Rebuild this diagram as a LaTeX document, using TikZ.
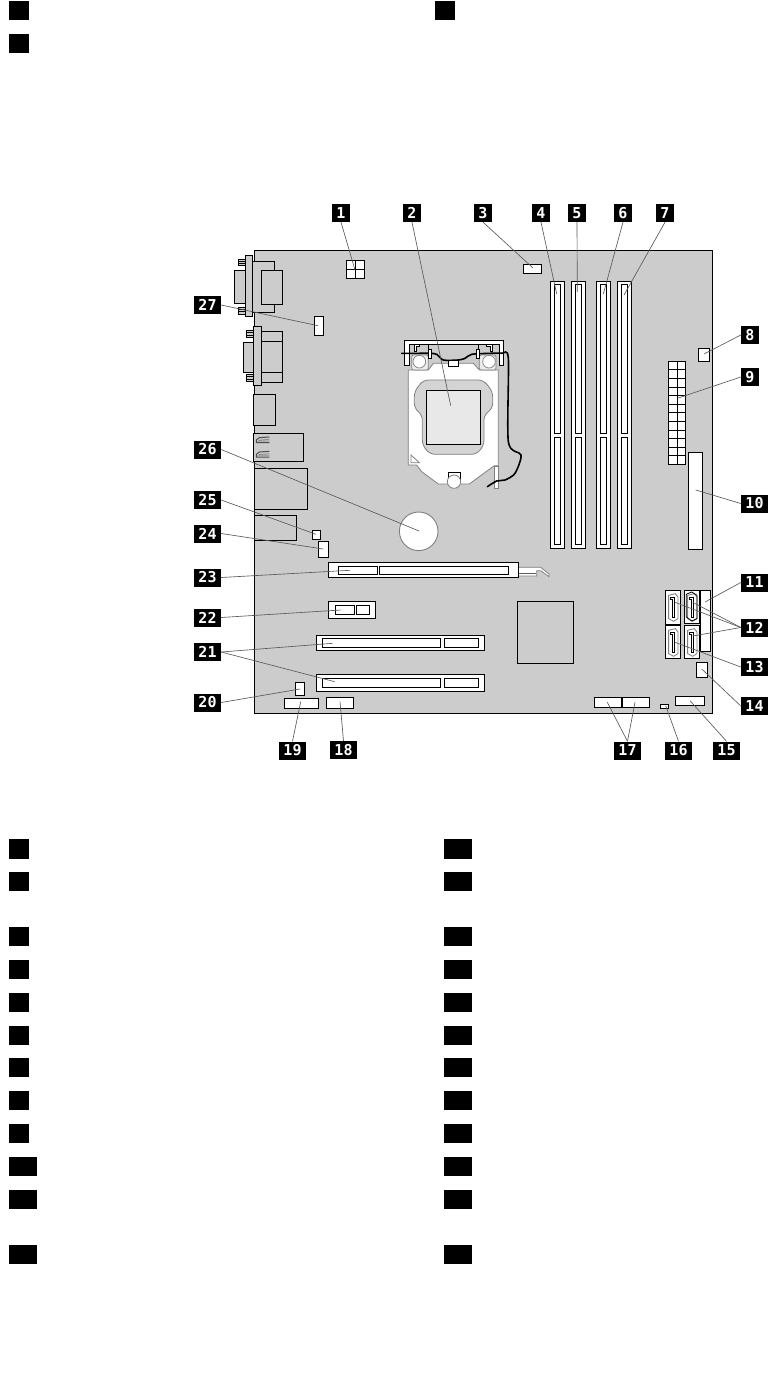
\documentclass[tikz,border=0pt]{standalone}
\usepackage{fontspec}
\newfontfamily\labfont{DejaVu Sans Mono}[BoldFont={DejaVu Sans Mono Bold}]
\definecolor{board}{HTML}{CCCCCC}
\definecolor{lead}{HTML}{5A5A5A}
\definecolor{soft}{HTML}{808080}
\tikzset{
 num/.style={fill=black,text=white,inner sep=0pt,minimum height=18pt,font=\labfont\bfseries\fontsize{15}{15}\selectfont},
 numa/.style={num,minimum width=18pt},
 numb/.style={num,minimum width=27pt},
 listn/.style={fill=black,inner sep=0pt,minimum height=19.5pt,minimum width=20pt},
 listw/.style={fill=black,inner sep=0pt,minimum height=19.5pt,minimum width=28pt},
 part/.style={draw=black,line width=.9pt,fill=white},
 grp/.style={draw=black,line width=.9pt,fill=board},
 line/.style={draw=black,line width=.9pt},
 sl/.style={draw=soft,line width=.8pt},
 lead/.style={draw=lead,line width=.65pt},
 z3/.style={x=.33333pt,y=-.33333pt},
}
\newcommand\satabox[3]{%
 \begin{scope}[shift={(#1,#2)},z3]
 \draw[part] (0,0) rectangle (44,#3);
 \draw[sl] (10,15)--(30,10)--(38,20)--(38,85)--(25,93)--(10,85)--cycle;
 \draw[line,line width=.8pt] (15,20)--(28,20)--(28,80)--(22,80)--(22,27)--(15,27)--cycle;
 \end{scope}}
\newcommand\dimm[1]{%
 \draw[part] (#1,281.3) rectangle ++(14.4,267);
 \draw[part] (#1+4,284.3) rectangle ++(5.7,149.4);
 \draw[part] (#1+4,437.3) rectangle ++(5.7,107.4);}
\begin{document}
\begin{tikzpicture}[x=1pt,y=-1pt]
\useasboundingbox (0,0) rectangle (768,1380);
\fill[white] (0,0) rectangle (768,1380);
% board
\draw[grp] (254.3,250) rectangle (712,713);
% serial port
\draw[grp] (252.7,261.3) rectangle (274.3,312.3);
\draw[grp] (261.3,270.3) rectangle (282.7,304.3);
\draw[grp] (234.3,270.3) rectangle (245.3,303.3);
\draw[grp] (245.3,255.3) rectangle (252.7,316.7);
\draw[grp,line width=.7pt] (238.3,259) rectangle (245.3,265.7);
\draw[grp,line width=.7pt] (238.3,307.3) rectangle (245.3,314);
\draw[line,line width=.5pt] (238.3,261.2)--(245.3,261.2) (238.3,263.4)--(245.3,263.4) (238.3,309.5)--(245.3,309.5) (238.3,311.7)--(245.3,311.7);
% VGA port
\draw[grp] (261.3,331.3) rectangle (282.7,382.3);
\draw[line] (261.3,341.3)--(282.7,341.3) (261.3,372.3)--(282.7,372.3);
\draw[grp] (243.3,342.3) rectangle (253.3,372.3);
\draw[grp] (253.3,326.3) rectangle (261.3,385.3);
\draw[grp,line width=.7pt] (246.3,330) rectangle (253.3,337.7);
\draw[grp,line width=.7pt] (246.3,374) rectangle (253.3,381.7);
\draw[line,line width=.5pt] (246.3,332.5)--(253.3,332.5) (246.3,335)--(253.3,335) (246.3,376.5)--(253.3,376.5) (246.3,379)--(253.3,379);
% rear blocks
\draw[grp] (253.3,394.3) rectangle (275.3,425.3);
\draw[grp] (253.3,433.3) rectangle (303.3,461.3);
\foreach \dy in {0,43} {
 \begin{scope}[shift={(250,430)},z3,yshift=-\dy*.33333pt]
 \draw[draw=black!70,line width=1pt] (58,21)--(28,23)--(19,30)--(19,38)--(58,38);
 \draw[draw=black!45,line width=.7pt] (58,28)--(30,30)--(25,33)--(58,33);
 \end{scope}}
\draw[grp] (254.3,468.3) rectangle (307.3,509.3);
\draw[grp] (254.3,515.3) rectangle (296.7,540.3);
% small headers
\draw[part] (346.3,260) rectangle (364.7,278.3);
\draw[line] (355.5,260)--(355.5,278.3) (346.3,269.2)--(364.7,269.2);
\draw[part] (314.3,316.3) rectangle (323.7,335.3);
\draw[part] (523.3,264) rectangle (541.7,273.7);
\draw[part] (312.3,530.3) rectangle (320.7,539.3);
\draw[part] (318.3,541.3) rectangle (328.3,557.3);
% battery
\draw[sl,fill=white,line width=.9pt] (418.7,531.3) circle (19.3);
% CPU socket
\begin{scope}[shift={(390,195)},z3]
\draw[sl,fill=white,line width=.8pt] (55,810)--(80,810)--(95,830)--(145,867)--(238,867)--(295,825)--(313,812)--(325,812)--(325,525)--(268,525)--(250,505)--(130,505)--(115,525)--(55,525)--cycle;
\draw[sl,fill=white!92!black,line width=.7pt,rounded corners=2pt] (65,525)--(65,480)--(115,480)--(115,525)--cycle;
\draw[sl,fill=white!92!black,line width=.7pt,rounded corners=2pt] (268,525)--(268,480)--(318,480)--(318,525)--cycle;
\draw[sl,fill=white,line width=.7pt] (88,500) circle (19);
\draw[sl,fill=white,line width=.7pt] (297,500) circle (19);
\draw[sl,fill=white!83!black,line width=.8pt,rounded corners=5pt] (100,555)--(280,555)--(308,590)--(308,640)--(282,660)--(282,750)--(260,778)--(120,778)--(97,750)--(97,660)--(73,640)--(73,590)--cycle;
\draw[part,fill=white!91!black] (108,586) rectangle (272,748);
\draw[sl,line width=.8pt] (63,780)--(63,803)--(88,803)--cycle;
\draw[line,fill=white] (175,832) rectangle (210,855);
\draw[sl,fill=white,line width=.8pt] (192,860) circle (20);
\draw[sl,fill=white,line width=.8pt] (313,813) rectangle (325,880);
% retention bar
\draw[part] (42,510)--(42,435)--(340,435)--(340,510)--(328,510)--(328,447)--(57,447)--(57,510)--cycle;
\draw[part] (88,448)--(72,448)--(72,470)--(78,470)--(78,455)--(88,455)--cycle;
\draw[part] (288,448)--(308,448)--(308,468)--(300,468)--(300,455)--(288,455)--cycle;
\draw[line] (115,447)--(115,465) (265,447)--(265,465);
% cable
\draw[line,line width=1.6pt,line cap=round] plot[smooth,tension=.45] coordinates {(35,475)(70,475)(120,475)(140,478)(160,495)(205,495)(225,490)(245,478)(300,475)(335,475)(355,490)(355,740)(393,780)(375,835)(345,855)(320,858)(292,875)};
\draw[part] (115,463) rectangle (124,490);
\draw[part] (259,463) rectangle (268,490);
\draw[part] (175,497) rectangle (205,515);
\end{scope}
% memory slots
\dimm{550.3}\dimm{571.3}\dimm{596.3}\dimm{617.3}
% right side
\draw[part] (698.3,348.3) rectangle (709.7,361.3);
\draw[part] (668.7,361.3) rectangle (685.3,464.3);
\draw[line] (677.3,361.3)--(677.3,464.3);
\foreach \r in {1,...,11} \draw[line] (668.7,361.3+\r*8.583) -- (685.3,361.3+\r*8.583);
\draw[part] (688.3,452.3) rectangle (702.7,549.3);
% PCI-E x16 slot
\begin{scope}[shift={(500,560)},z3]
\draw[sl,fill=white,line width=.8pt] (40,22)--(122,22)--(147,42)--(147,50)--(122,32)--(110,32)--(110,48)--(40,48)--cycle;
\draw[line,line width=.9pt,draw=lead] (55,40)--(108,40);
\end{scope}
\draw[part] (328.3,562.3) rectangle (518.3,577.3);
\draw[part] (338.3,566.3) rectangle (377.3,574.3);
\draw[part] (379.3,566.3) rectangle (508.3,574.3);
% x1 slot
\draw[part] (328.3,601.3) rectangle (375.3,618.3);
\draw[part] (335.3,605.3) rectangle (354.7,614.3);
\draw[part] (356.3,605.3) rectangle (369.7,614.3);
% PCI slots
\draw[part] (316.3,635.3) rectangle (484.7,650.3);
\draw[part] (322.3,638.3) rectangle (440.3,647.3);
\draw[part] (444.3,638.3) rectangle (478.7,647.3);
\draw[part] (316.3,674.3) rectangle (484.7,691.3);
\draw[part] (322.3,678.3) rectangle (440.3,687.3);
\draw[part] (444.3,678.3) rectangle (478.7,687.3);
% chip and bottom headers
\draw[grp] (517.3,601.3) rectangle (573.3,663.3);
\draw[part] (295.3,682.3) rectangle (304.7,695.7);
\draw[part] (284.3,698.3) rectangle (318.3,708.7);
\draw[part] (326.3,697.3) rectangle (353.3,708.3);
\draw[part] (594.3,697.3) rectangle (621.7,707.3);
\draw[part] (622.7,697.3) rectangle (649.7,707.3);
\draw[part] (660.3,704.3) rectangle (668.3,708.3);
\draw[part] (675.3,696.3) rectangle (704.7,705.3);
\draw[part] (696.3,662.3) rectangle (707.7,677.3);
\draw[part] (700.3,590.3) rectangle (710.7,651.3);
\satabox{665.3}{590.3}{102}
\satabox{684.3}{590.3}{100}
\satabox{665.3}{625.3}{99}
\satabox{684.3}{625.3}{99}
\begin{scope}[shift={(684.3,590.3)},z3]
\draw[line,line width=.8pt] (6,12)--(22,5)--(38,15)--(38,85)--(22,92)--(6,80)--cycle;
\end{scope}
% labels
\node[numa] (l1) at (341,213) {1};
\node[numa] (l2) at (412,213) {2};
\node[numa] (l3) at (483,213) {3};
\node[numa] (l4) at (541,213) {4};
\node[numa] (l5) at (577,213) {5};
\node[numa] (l6) at (623,213) {6};
\node[numa] (l7) at (665,213) {7};
\node[numa] (l8) at (750,335) {8};
\node[numa] (l9) at (750,377) {9};
\node[numb] (l10) at (754.5,503.5) {10};
\node[numb] (l11) at (754.5,582.5) {11};
\node[numb] (l12) at (754.5,627.5) {12};
\node[numb] (l13) at (754.5,667) {13};
\node[numb] (l14) at (754.5,706) {14};
\node[numb] (l15) at (726.5,750.5) {15};
\node[numb] (l16) at (678.5,750.5) {16};
\node[numb] (l17) at (627.5,750.5) {17};
\node[numb] (l18) at (343.5,750) {18};
\node[numb] (l19) at (292.5,750.5) {19};
\node[numb] (l20) at (207.5,702.5) {20};
\node[numb] (l21) at (207.5,652) {21};
\node[numb] (l22) at (207.5,617.5) {22};
\node[numb] (l23) at (207.5,577.5) {23};
\node[numb] (l24) at (207.5,533.5) {24};
\node[numb] (l25) at (207.5,500) {25};
\node[numb] (l26) at (207.5,449.5) {26};
\node[numb] (l27) at (207.5,305) {27};
% connector ends
\coordinate (c1) at (355,270);
\coordinate (c2) at (450.7,405.7);
\coordinate (c3) at (533,268);
\coordinate (c4) at (556.7,294);
\coordinate (c5) at (577.3,292);
\coordinate (c6) at (603.3,294);
\coordinate (c7) at (624,295);
\coordinate (c8) at (704,354);
\coordinate (c9) at (678.3,398);
\coordinate (c10) at (695.7,490);
\coordinate (c11) at (705,602);
\coordinate (c12a) at (675,602.3);
\coordinate (c12b) at (692.7,602.3);
\coordinate (c12c) at (692.7,636);
\coordinate (c13) at (675,642.3);
\coordinate (c14) at (701.7,669);
\coordinate (c15) at (690,700.7);
\coordinate (c16) at (665.7,705.7);
\coordinate (c17a) at (607.3,702.3);
\coordinate (c17b) at (635,702.3);
\coordinate (c18) at (340,701.7);
\coordinate (c19) at (300.7,701.7);
\coordinate (c20) at (300,689);
\coordinate (c21a) at (332.7,643.3);
\coordinate (c21b) at (334.7,681.7);
\coordinate (c22) at (340.7,610);
\coordinate (c23) at (350,570.3);
\coordinate (c24) at (323.3,549);
\coordinate (c25) at (316,534.3);
\coordinate (c26) at (419,531);
\coordinate (c27) at (318,325.7);
\draw[lead] (l1.south)--(c1);
\draw[lead] (l2.south)--(c2);
\draw[lead] (l3.south)--(c3);
\draw[lead] (l4.south)--(c4);
\draw[lead] (l5.south)--(c5);
\draw[lead] (l6.south)--(c6);
\draw[lead] (l7.south)--(c7);
\draw[lead] (l8.west)--(c8);
\draw[lead] (l9.west)--(c9);
\draw[lead] (l10.west)--(c10);
\draw[lead] (l11.west)--(c11);
\draw[lead] (l12.west)--(c12a);
\draw[lead] (l12.west)--(c12b);
\draw[lead] (l12.west)--(c12c);
\draw[lead] (l13.west)--(c13);
\draw[lead] (l14.west)--(c14);
\draw[lead] (l15.north)--(c15);
\draw[lead] (l16.north)--(c16);
\draw[lead] (l17.north)--(c17a);
\draw[lead] (l17.north)--(c17b);
\draw[lead] (l18.north)--(c18);
\draw[lead] (l19.north)--(c19);
\draw[lead] (l20.east)--(c20);
\draw[lead] (l21.east)--(c21a);
\draw[lead] (l21.east)--(c21b);
\draw[lead] (l22.east)--(c22);
\draw[lead] (l23.east)--(c23);
\draw[lead] (l24.east)--(c24);
\draw[lead] (l25.east)--(c25);
\draw[lead] (l26.east)--(c26);
\draw[lead] (l27.east)--(c27);
% legend squares
\node[listn] (t1) at (19,10.5) {};
\node[listn] (t2) at (19,43.5) {};
\node[listn] (t3) at (445,10.5) {};
\foreach \n/\yy in {1/849,2/881.5,3/936.5,4/969.5,5/1002.5,6/1035.5,7/1067.5,8/1100.5,9/1133.5}
 \node[listn] (a\n) at (19,\yy) {};
\foreach \n/\yy in {10/1166.5,11/1199.5,12/1254.5}
 \node[listw] (a\n) at (23,\yy) {};
\foreach \n/\yy in {1/849,2/881.5,3/936.5,4/969.5,5/1002.5,6/1035.5,7/1067.5,8/1100.5,9/1133.5,10/1166.5,11/1199.5,12/1254.5}
 \node[listw] (b\n) at (457.5,\yy) {};
\end{tikzpicture}
\end{document}
